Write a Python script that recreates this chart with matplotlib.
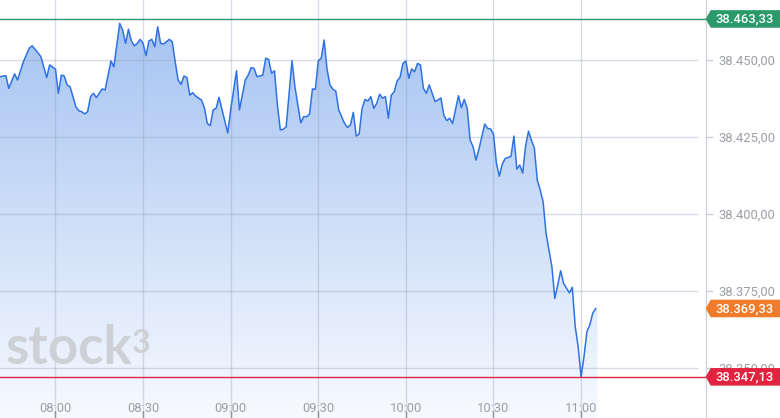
import numpy as np
import pandas as pd
import matplotlib
matplotlib.use("Agg")
import matplotlib.pyplot as plt
import matplotlib.dates as mdates
import matplotlib.transforms as mtransforms
from matplotlib.patches import Polygon

plt.rcParams['font.family'] = ['Roboto', 'DejaVu Sans']

# intraday quotes
times = [
    "07:41", "07:43", "07:44", "07:46", "07:47", "07:49", "07:51", "07:52", "07:53", "07:55",
    "07:57", "07:58", "08:00", "08:01", "08:02", "08:03", "08:04", "08:05", "08:07", "08:08",
    "08:09", "08:10", "08:11", "08:12", "08:13", "08:14", "08:16", "08:17", "08:19", "08:20",
    "08:22", "08:23", "08:24", "08:25", "08:26", "08:27", "08:28", "08:29", "08:30", "08:31",
    "08:32", "08:33", "08:34", "08:35", "08:36", "08:37", "08:39", "08:40", "08:41", "08:42",
    "08:43", "08:44", "08:45", "08:46", "08:47", "08:48", "08:50", "08:51", "08:52", "08:53",
    "08:54", "08:55", "08:56", "08:58", "08:59", "09:00", "09:02", "09:03", "09:05", "09:06",
    "09:07", "09:08", "09:09", "09:11", "09:12", "09:13", "09:14", "09:15", "09:16", "09:17",
    "09:18", "09:19", "09:21", "09:22", "09:24", "09:25", "09:26", "09:27", "09:28", "09:29",
    "09:30", "09:31", "09:32", "09:33", "09:34", "09:35", "09:36", "09:37", "09:39", "09:40",
    "09:41", "09:42", "09:43", "09:44", "09:45", "09:46", "09:47", "09:48", "09:49", "09:50",
    "09:51", "09:52", "09:53", "09:54", "09:55", "09:56", "09:57", "09:58", "09:59", "10:00",
    "10:01", "10:02", "10:03", "10:04", "10:05", "10:06", "10:07", "10:08", "10:10", "10:11",
    "10:12", "10:13", "10:14", "10:15", "10:16", "10:18", "10:19", "10:20", "10:21", "10:22",
    "10:23", "10:24", "10:25", "10:27", "10:28", "10:29", "10:30", "10:31", "10:32", "10:33",
    "10:34", "10:36", "10:37", "10:38", "10:39", "10:40", "10:41", "10:42", "10:43", "10:44",
    "10:45", "10:46", "10:47", "10:48", "10:50", "10:51", "10:52", "10:53", "10:54", "10:55",
    "10:56", "10:57", "10:58", "10:59", "11:00", "11:01", "11:02", "11:03", "11:04", "11:05",
]
prices = [
    38444.6, 38444.9, 38440.8, 38445.5, 38443.5, 38449.4, 38453.8, 38454.6, 38453.5, 38451.1,
    38444.3, 38448.4, 38447.0, 38439.2, 38445.1, 38444.8, 38441.9, 38441.3, 38434.8, 38433.5,
    38433.2, 38432.5, 38433.2, 38438.1, 38439.2, 38437.8, 38440.6, 38440.3, 38449.7, 38447.8,
    38461.9, 38459.7, 38455.4, 38460.0, 38456.2, 38454.6, 38455.4, 38456.7, 38455.4, 38451.4,
    38456.2, 38456.7, 38454.3, 38460.8, 38455.4, 38455.2, 38456.7, 38455.9, 38449.4, 38443.5,
    38442.1, 38444.8, 38444.3, 38438.6, 38439.4, 38438.3, 38437.0, 38434.5, 38429.4, 38428.7,
    38433.8, 38434.3, 38437.9, 38430.2, 38426.3, 38433.8, 38446.5, 38433.8, 38443.5, 38445.1,
    38447.5, 38447.3, 38444.6, 38445.1, 38450.6, 38450.2, 38445.7, 38446.5, 38435.4, 38427.3,
    38427.5, 38428.3, 38449.8, 38441.3, 38429.6, 38431.6, 38431.6, 38432.4, 38440.6, 38440.5,
    38449.7, 38450.6, 38456.5, 38447.0, 38441.9, 38440.5, 38439.9, 38433.8, 38429.4, 38428.1,
    38428.9, 38433.0, 38425.3, 38426.0, 38434.3, 38437.2, 38436.7, 38438.1, 38434.3, 38435.9,
    38438.9, 38437.6, 38438.1, 38431.1, 38438.6, 38439.7, 38443.2, 38444.4, 38448.9, 38449.7,
    38444.1, 38447.1, 38446.2, 38448.9, 38448.4, 38440.8, 38439.2, 38441.9, 38436.5, 38437.0,
    38437.7, 38432.1, 38430.3, 38431.1, 38429.4, 38438.4, 38434.5, 38437.2, 38434.3, 38424.0,
    38421.9, 38417.5, 38421.0, 38429.2, 38427.8, 38427.6, 38426.0, 38416.5, 38412.3, 38416.2,
    38418.0, 38418.7, 38425.3, 38414.6, 38415.9, 38413.3, 38422.1, 38426.9, 38424.0, 38421.4,
    38411.0, 38407.8, 38404.0, 38393.7, 38382.9, 38372.6, 38376.9, 38381.6, 38377.5, 38375.9,
    38374.4, 38376.2, 38363.4, 38356.9, 38347.13, 38353.7, 38361.8, 38364.0, 38367.8, 38369.33,
]
day_high = 38463.33
day_low = 38347.13
last_price = prices[-1]

y_ticks = [38350, 38375, 38400, 38425, 38450]
x_labels = ["08:00", "08:30", "09:00", "09:30", "10:00", "10:30", "11:00"]


def de_fmt(v):
    return f"{v:,.2f}".replace(",", "X").replace(".", ",").replace("X", ".")


def to_num(hhmm):
    return mdates.date2num(pd.Timestamp(f"2024-01-02 {hhmm}"))


x = np.array([to_num(s) for s in times])
y = np.array(prices)

W, H = 780, 418
fig = plt.figure(figsize=(W / 100, H / 100), dpi=100)
ax_right = 705.7
ax = fig.add_axes([0, 0, ax_right / W, 1])

# limits so that 25 points = 77 px, 38450 at 60 px from top
px_per_pt = 3.08
y_top = 38450 + 60 / px_per_pt
y_bot = 38450 - (H - 60) / px_per_pt
px_per_min = 2.92
x0 = x[0]
x1 = x0 + (ax_right / px_per_min) / 1440
ax.set_xlim(x0, x1)
ax.set_ylim(y_bot, y_top)

# gradient fill under the line
top_c = np.array([0.63, 0.755, 0.945])
bot_c = np.array([0.97, 0.98, 1.0])
f = np.linspace(0, 1, 256)[:, None]
grad = (top_c[None, :] * (1 - f) + bot_c[None, :] * f)[:, None, :]
im = ax.imshow(grad, extent=[x0, x1, y_bot, y_top], aspect='auto',
               origin='upper', zorder=1, interpolation='bilinear')
verts = np.vstack([np.column_stack([x, y]), [x[-1] + 0.6 / 1440, y[-1]],
                   [x[-1] + 0.6 / 1440, y_bot], [x[0], y_bot]])
clip = Polygon(verts, closed=True, facecolor='none', edgecolor='none',
               transform=ax.transData)
ax.add_patch(clip)
im.set_clip_path(clip)

# grid
grid_c = (0.58, 0.61, 0.70, 0.35)
for lbl in x_labels:
    ax.axvline(to_num(lbl), color=grid_c, lw=1, zorder=2)
for v in y_ticks:
    ax.axhline(v, xmax=697 / ax_right, color=grid_c, lw=1, zorder=2)

ax.plot(x, y, color='#2f72e3', lw=1.1, zorder=4)

green = '#2a9a6b'
red = '#e2233f'
orange = '#f07b2a'
ax.axhline(day_high, color=green, lw=1, zorder=5)
ax.axhline(day_low, color=red, lw=1, zorder=5)

# watermark
ax.text(6 / ax_right, (H - 364) / H, "stock", transform=ax.transAxes,
        fontsize=38, family=['Lato', 'DejaVu Sans'], fontweight='bold',
        color='#cdd0d5', va='baseline', ha='left', zorder=3)
ax.text(132 / ax_right, (H - 353) / H, "3", transform=ax.transAxes,
        fontsize=23, family=['Lato', 'DejaVu Sans'], fontweight='bold',
        color='#cdd0d5', va='baseline', ha='left', zorder=3)

# axes styling
for s in ['top', 'left', 'bottom']:
    ax.spines[s].set_visible(False)
ax.spines['right'].set_color('#d3d5dc')
ax.spines['right'].set_linewidth(1)
ax.yaxis.tick_right()
ax.set_yticks(y_ticks)
ax.set_yticklabels([de_fmt(v) for v in y_ticks])
ax.tick_params(axis='y', length=5, width=1, color='#c9ccd3',
               labelcolor='#9c9fa7', labelsize=9.4, pad=4)
ax.set_xticks([to_num(s) for s in x_labels])
ax.set_xticklabels([])
ax.tick_params(axis='x', direction='in', length=5, width=1, color='#8d8f95')
bt = mtransforms.blended_transform_factory(ax.transData, ax.transAxes)
for lbl in x_labels:
    ax.text(to_num(lbl), (H - 412.5) / H, lbl, transform=bt, ha='center',
            va='baseline', fontsize=9.4, color='#9c9fa7', zorder=6)

# price tags on the right
def tag(v, color):
    yd = ax.transData.transform((x0, v))[1]
    hh = 8.8
    pts = [(705.7, yd), (710.7, yd + hh), (W, yd + hh), (W, yd - hh), (710.7, yd - hh)]
    pts = [(px / W, py / H) for px, py in pts]
    fig.patches.append(Polygon(pts, closed=True, facecolor=color, edgecolor='none',
                               transform=fig.transFigure, zorder=10))
    fig.text(745 / W, yd / H, de_fmt(v), color='white', fontsize=9.4,
             fontweight='medium', ha='center', va='center', zorder=11)


tag(day_high, green)
tag(last_price, orange)
tag(day_low, red)

fig.savefig("out.png", dpi=100)
